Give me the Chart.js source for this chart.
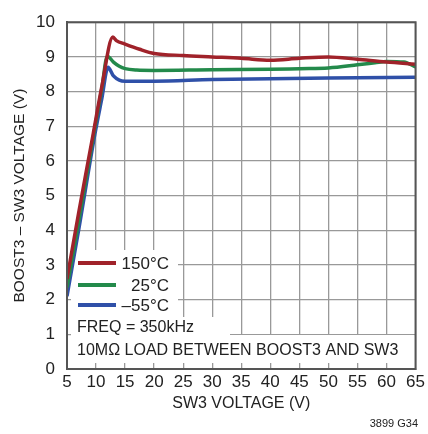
<!DOCTYPE html>
<html>
<head>
<meta charset="utf-8">
<script src="https://cdn.jsdelivr.net/npm/chart.js@4/dist/chart.umd.min.js"></script>
<style>
  html, body { margin: 0; padding: 0; background: #fff; }
  #wrap { width: 428px; height: 434px; position: relative; }
</style>
</head>
<body>
<div id="wrap"><canvas id="myChart" width="428" height="434"></canvas></div>
<script>
// values
const hotX   = [5, 7, 9.5, 11, 12.9, 13.5, 15, 17.5, 20, 25, 30, 35, 40, 45, 50, 55, 60, 65];
const hotY   = [2.6, 4.5, 6.77, 8.15, 9.57, 9.47, 9.37, 9.22, 9.1, 9.04, 9.0, 8.96, 8.9, 8.96, 9.0, 8.93, 8.85, 8.79];
const roomX  = [5, 7, 9.6, 11, 11.95, 13, 14, 15, 17, 20, 30, 40, 45, 50, 55, 58, 60, 63, 65];
const roomY  = [2.35, 4.25, 6.77, 8.1, 9.02, 8.85, 8.73, 8.66, 8.62, 8.61, 8.63, 8.64, 8.66, 8.68, 8.77, 8.83, 8.87, 8.85, 8.71];
const coldX  = [5, 7, 9.8, 11, 12.06, 13, 14, 15, 20, 30, 40, 50, 65];
const coldY  = [2.1, 4.0, 6.77, 7.8, 8.7, 8.45, 8.33, 8.3, 8.3, 8.35, 8.37, 8.39, 8.41];
const seriesNames = ['150°C', '25°C', '–55°C'];
const seriesColors = ['#a0222a', '#238a4b', '#2f50a8'];

const font = "'Liberation Sans Narrow', 'Liberation Sans', sans-serif";

function pts(xs, ys) { return xs.map((x, i) => ({ x: x, y: ys[i] })); }

const chartCanvas = document.getElementById('myChart');

// white boxes behind the notes, then legend and note text
const notes = {
  id: 'notes',
  beforeDatasetsDraw(chart) {
    const c = chart.ctx, a = chart.chartArea;
    c.save();
    c.fillStyle = '#fff';
    c.fillRect(a.left + 4, 250, 178 - a.left - 4, 67);
    c.fillRect(a.left + 4, 317, 230 - a.left - 4, 18);
    c.fillRect(a.left + 4, 335, a.right - a.left - 5, 28);
    c.restore();
  },
  afterDraw(chart) {
    const c = chart.ctx, a = chart.chartArea;
    c.save();
    c.strokeStyle = '#555';
    c.lineWidth = 2;
    c.strokeRect(a.left, a.top, a.right - a.left, a.bottom - a.top);

    const ly = [263, 285, 305];
    c.font = '17px ' + font;
    c.textBaseline = 'middle';
    c.textAlign = 'right';
    c.lineWidth = 4;
    for (let i = 0; i < 3; i++) {
      c.strokeStyle = seriesColors[i];
      c.beginPath();
      c.moveTo(78, ly[i]);
      c.lineTo(116, ly[i]);
      c.stroke();
      c.fillStyle = '#222';
      c.fillText(seriesNames[i], 169, ly[i] + 1);
    }
    c.font = '16px ' + font;
    c.textAlign = 'left';
    c.fillText('FREQ = 350kHz', 77, 328);
    c.fillText('10MΩ LOAD BETWEEN BOOST3 AND SW3', 77, 351);

    c.font = '11px ' + font;
    c.textAlign = 'right';
    c.fillText('3899 G34', 418, 424);
    c.restore();
  }
};

const data = {
  datasets: [
    { label: seriesNames[0], data: pts(hotX, hotY), borderColor: seriesColors[0] },
    { label: seriesNames[1], data: pts(roomX, roomY), borderColor: seriesColors[1] },
    { label: seriesNames[2], data: pts(coldX, coldY), borderColor: seriesColors[2] }
  ].map(d => Object.assign(d, {
    borderWidth: 3.5,
    pointRadius: 0,
    fill: false,
    cubicInterpolationMode: 'monotone'
  }))
};

const config = {
  type: 'line',
  data: data,
  options: {
    responsive: false,
    animation: false,
    layout: { padding: { left: 0, right: 10, top: 16, bottom: 21 } },
    plugins: { legend: { display: false }, tooltip: { enabled: false } },
    scales: {
      x: {
        type: 'linear',
        min: 5, max: 65,
        afterFit: s => { s.height = 44; },
        ticks: { stepSize: 5, color: '#222', font: { family: font, size: 17 }, padding: 3, maxRotation: 0 },
        grid: { color: '#999', lineWidth: 1.3, drawTicks: false },
        border: { color: '#555', width: 2 },
        title: { display: true, text: 'SW3 VOLTAGE (V)', color: '#222', font: { family: font, size: 16 }, padding: { top: 0, bottom: 0 } }
      },
      y: {
        min: 0, max: 10,
        afterFit: s => { s.width = 67; },
        ticks: { stepSize: 1, color: '#222', font: { family: font, size: 17 }, padding: 12 },
        grid: { color: '#999', lineWidth: 1.3, drawTicks: false },
        border: { color: '#555', width: 2 },
        title: { display: true, text: 'BOOST3 – SW3 VOLTAGE (V)', color: '#222', font: { family: font, size: 15.5 }, padding: { top: 10, bottom: 0 } }
      }
    }
  },
  plugins: [notes]
};

const myChart = new Chart(chartCanvas, config);
</script>
</body>
</html>
